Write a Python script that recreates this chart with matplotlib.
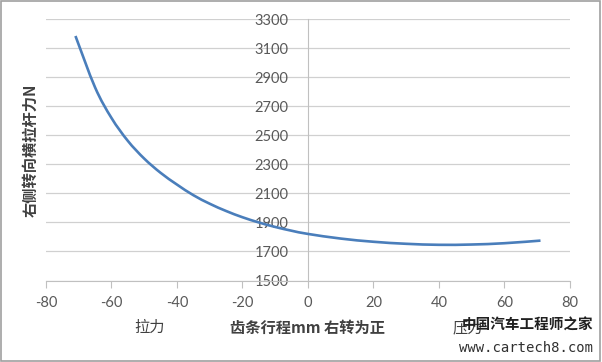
import matplotlib
matplotlib.use('Agg')
import matplotlib.pyplot as plt
from matplotlib.patches import Rectangle, PathPatch
from matplotlib.path import Path

# rack travel (mm) and right tie rod force (N)
travel = [-71, -65, -60, -55, -50, -45, -40, -35, -30, -25, -20, -15,
          -10, -5, 0, 10, 20, 30, 40, 50, 60, 71]
force = [3185, 2830, 2620, 2462, 2340, 2242, 2161, 2088, 2029, 1979,
         1936, 1900, 1869, 1843, 1821, 1789, 1767, 1753, 1746, 1748, 1757,
         1775]

x_ticks = [-80, -60, -40, -20, 0, 20, 40, 60, 80]
y_ticks = [1500, 1700, 1900, 2100, 2300, 2500, 2700, 2900, 3100, 3300]

plt.rcParams['font.family'] = ['Lato', 'Noto Sans CJK SC', 'DejaVu Sans']
plt.rcParams['axes.unicode_minus'] = False


def smooth_path(xs, ys):
    # Excel style smoothed line: Catmull-Rom turned into cubic Bezier pieces
    pts = list(zip(xs, ys))
    verts = [pts[0]]
    codes = [Path.MOVETO]
    n = len(pts)
    for i in range(n - 1):
        p0 = pts[max(i - 1, 0)]
        p1 = pts[i]
        p2 = pts[i + 1]
        p3 = pts[min(i + 2, n - 1)]
        c1 = (p1[0] + (p2[0] - p0[0]) / 6, p1[1] + (p2[1] - p0[1]) / 6)
        c2 = (p2[0] - (p3[0] - p1[0]) / 6, p2[1] - (p3[1] - p1[1]) / 6)
        verts += [c1, c2, p2]
        codes += [Path.CURVE4] * 3
    return Path(verts, codes)


fig = plt.figure(figsize=(6.02, 3.62), dpi=100)
ax = fig.add_axes([0.0764, 0.2251, 0.8704, 0.7216])

ax.add_patch(PathPatch(smooth_path(travel, force), facecolor='none',
                       edgecolor='#4a7ebb', linewidth=1.9, zorder=3))

ax.set_xlim(-80, 80)
ax.set_ylim(1500, 3300)
ax.set_xticks(x_ticks)
ax.set_yticks(y_ticks)

# grid
ax.grid(axis='y', color='#d0d0d0', linewidth=0.9)
ax.set_axisbelow(True)

# axes: y axis sits at x = 0 like in Excel
for s in ['top', 'right']:
    ax.spines[s].set_visible(False)
ax.spines['left'].set_position(('data', 0))
ax.spines['left'].set_color('#c0c0c0')
ax.spines['bottom'].set_color('#c0c0c0')
ax.tick_params(axis='y', length=0, pad=14, labelsize=10.5, labelcolor='#595959')
ax.tick_params(axis='x', length=5, color='#c0c0c0', pad=6, labelsize=10.5,
               labelcolor='#595959')

# labels
fig.text(0.05, 0.585, '右侧转向横拉杆力N', rotation=90, ha='center', va='center',
         fontsize=11, fontweight='bold', color='#404040',
         family=['Noto Sans CJK SC', 'DejaVu Sans'])
fig.text(0.51, 0.095, '齿条行程mm 右转为正', ha='center', va='center', fontsize=11,
         fontweight='bold', color='#404040', family=['Noto Sans CJK SC', 'DejaVu Sans'])
fig.text(0.249, 0.095, '拉力', ha='center', va='center', fontsize=11,
         color='#404040', family=['Noto Sans CJK SC', 'DejaVu Sans'])
fig.text(0.777, 0.095, '压力', ha='center', va='center', fontsize=11,
         color='#404040', family=['Noto Sans CJK SC', 'DejaVu Sans'])

# watermark
fig.text(0.985, 0.103, '中国汽车工程师之家', ha='right', va='center', fontsize=10.5,
         fontweight='bold', color='#202020', family=['Noto Sans CJK SC', 'DejaVu Sans'])
fig.text(0.985, 0.04, 'www.cartech8.com', ha='right', va='center', fontsize=10,
         color='#303030', family='DejaVu Sans Mono')

# outer border
fig.patches.append(Rectangle((0.002, 0.003), 0.995, 0.993, transform=fig.transFigure,
                             fill=False, edgecolor='#a0a0a0', linewidth=1.2))

fig.savefig('out.png', dpi=100)
